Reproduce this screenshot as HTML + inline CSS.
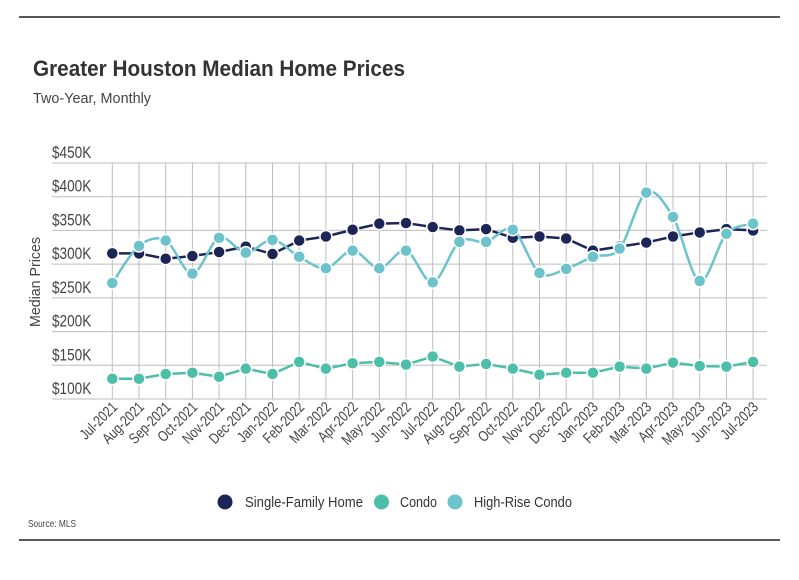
<!DOCTYPE html>
<html><head><meta charset="utf-8">
<style>
body{margin:0;background:#fff;width:799px;height:575px;overflow:hidden;font-family:"Liberation Sans",sans-serif;}
svg text{font-family:"Liberation Sans",sans-serif;}
</style></head>
<body>
<svg id="chart" width="799" height="575">
<line x1="19" y1="17" x2="780" y2="17" stroke="#222" stroke-width="1.5"/>
<text x="33" y="76" font-size="22" font-weight="bold" fill="#333" textLength="372" lengthAdjust="spacingAndGlyphs">Greater Houston Median Home Prices</text>
<text x="33" y="103" font-size="15" fill="#444" textLength="118" lengthAdjust="spacingAndGlyphs">Two-Year, Monthly</text>
<text transform="translate(40,282) rotate(-90)" text-anchor="middle" font-size="15" fill="#444" textLength="90" lengthAdjust="spacingAndGlyphs">Median Prices</text>
<g id="grid"></g><g id="series"></g><g id="xlabels"></g>
<g>
<circle cx="225" cy="502" r="7.5" fill="#1d2557"/>
<text x="245" y="507" font-size="15" fill="#333" textLength="118" lengthAdjust="spacingAndGlyphs">Single-Family Home</text>
<circle cx="381.5" cy="502" r="7.5" fill="#4dbfa8"/>
<text x="400" y="507" font-size="15" fill="#333" textLength="37" lengthAdjust="spacingAndGlyphs">Condo</text>
<circle cx="455" cy="502" r="7.5" fill="#6cc3cc"/>
<text x="474" y="507" font-size="15" fill="#333" textLength="98" lengthAdjust="spacingAndGlyphs">High-Rise Condo</text>
</g>
<text x="28" y="527" font-size="10.5" fill="#444" textLength="48" lengthAdjust="spacingAndGlyphs">Source:  MLS</text>
<line x1="19" y1="540" x2="780" y2="540" stroke="#222" stroke-width="1.5"/>
</svg>
<script>
const categories=["Jul-2021","Aug-2021","Sep-2021","Oct-2021","Nov-2021","Dec-2021","Jan-2022","Feb-2022","Mar-2022","Apr-2022","May-2022","Jun-2022","Jul-2022","Aug-2022","Sep-2022","Oct-2022","Nov-2022","Dec-2022","Jan-2023","Feb-2023","Mar-2023","Apr-2023","May-2023","Jun-2023","Jul-2023"];
const singleFamily=[316,316,308,312,318,326,315,335,341,351,360,361,355,350,352,339,341,338,320,326,332,341,347,352,350];
const condo=[130,130,137,139,133,145,137,155,145,153,155,151,163,148,152,145,136,139,139,148,145,154,149,148,155];
const highRise=[272,327,335,286,339,317,336,311,294,320,294,320,273,333,333,351,287,293,311,323,406,370,275,345,360];
const yTicks=[100,150,200,250,300,350,400,450];
const ns="http://www.w3.org/2000/svg";
const x0=112.3,dx=26.7,yBase=399,yTop=163;
function xs(i){return x0+i*dx;}
function ys(v){return yBase-(v-100)/350*(yBase-yTop);}
function mk(t,a,p){const e=document.createElementNS(ns,t);for(const k in a)e.setAttribute(k,a[k]);p.appendChild(e);return e;}
const grid=document.getElementById('grid');
yTicks.forEach(v=>{
 const l=mk('line',{x1:52,x2:767,y1:ys(v),y2:ys(v),stroke:'#bdbdbd','stroke-width':1},grid);
 
 
 const t=mk('text',{transform:`translate(52,${ys(v)-5}) scale(0.8,1)`,'font-size':17,fill:'#444'},grid);t.textContent='$'+v+'K';
 
 
});
const xl=document.getElementById('xlabels');
categories.forEach((c,i)=>{
 const l=mk('line',{x1:xs(i),x2:xs(i),y1:yTop,y2:yBase,stroke:'#bdbdbd','stroke-width':1},grid);
 
 
 const t=mk('text',{transform:`translate(${xs(i)+6},${yBase+9}) rotate(-45) scale(0.8,1)`,'text-anchor':'end','font-size':15,fill:'#444'},xl);t.textContent=c;
 
 
});
const sg=document.getElementById('series');
function straight(d){return d.map((v,i)=>(i?'L':'M')+xs(i)+','+ys(v)).join('');}
function smooth(d){const p=d.map((v,i)=>[xs(i),ys(v)]);let s='M'+p[0];for(let i=0;i<p.length-1;i++){const a=p[i-1]||p[i],b=p[i],c=p[i+1],e=p[i+2]||c;const c1=[b[0]+(c[0]-a[0])/6,b[1]+(c[1]-a[1])/6],c2=[c[0]-(e[0]-b[0])/6,c[1]-(e[1]-b[1])/6];s+='C'+c1+' '+c2+' '+c;}return s;}
function draw(d,col,name,sm){
 const p=mk('path',{d:sm?smooth(d):straight(d),fill:'none',stroke:col,'stroke-width':2.5},sg);
 
 
 d.forEach((v,i)=>{const c=mk('circle',{cx:xs(i),cy:ys(v),r:6,fill:col,stroke:'#fff','stroke-width':1.5},sg);
 
 });
}
draw(condo,'#4dbfa8','condo',false);
draw(singleFamily,'#1d2557','single-family',false);
draw(highRise,'#6cc3cc','high-rise-condo',true);
</script>
</body></html>
